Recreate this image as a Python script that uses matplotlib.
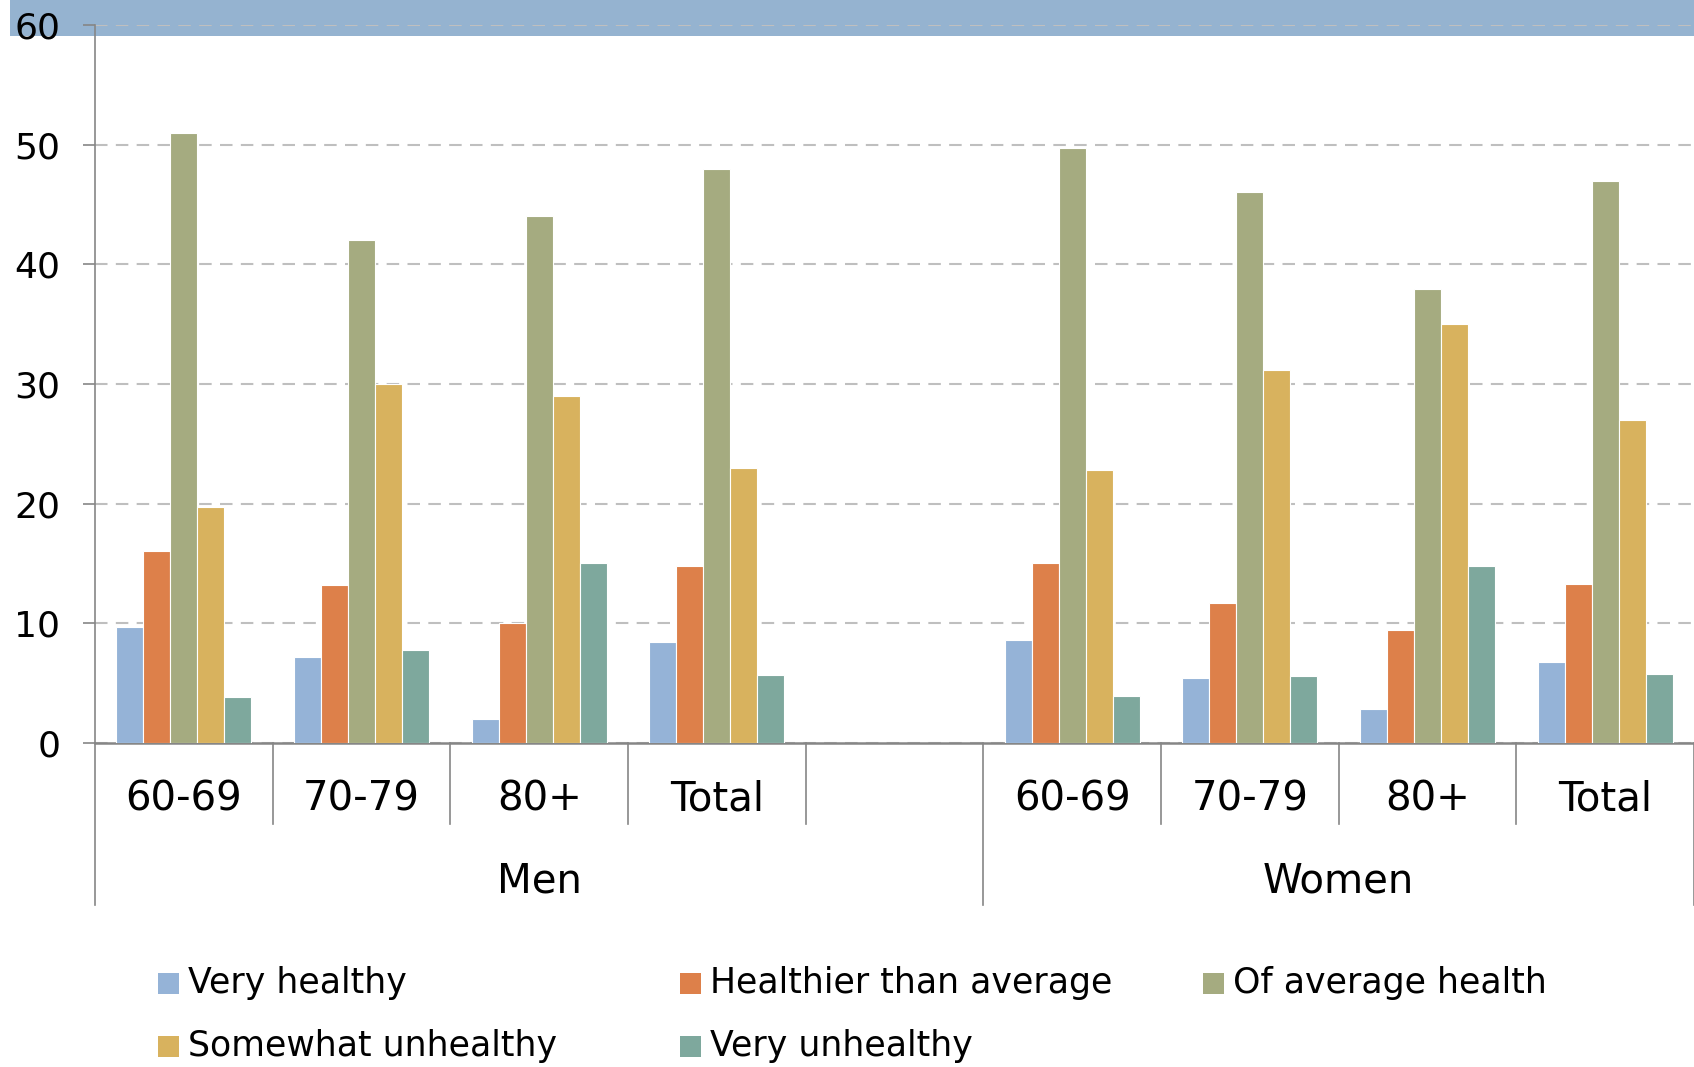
#Importing Libraries
import numpy as np
import matplotlib.pyplot as plt
from matplotlib.patches import Rectangle
import matplotlib.transforms as mtransforms

#Data (percent)
groups = ['Men', 'Women']
ages = ['60-69', '70-79', '80+', 'Total']
series = ['Very healthy', 'Healthier than average', 'Of average health',
          'Somewhat unhealthy', 'Very unhealthy']
very_healthy = [9.7, 7.2, 2.0, 8.4, 8.6, 5.4, 2.8, 6.8]
healthier = [16.0, 13.2, 10.0, 14.8, 15.0, 11.7, 9.4, 13.3]
average = [51.0, 42.0, 44.0, 48.0, 49.7, 46.0, 37.9, 47.0]
somewhat_unhealthy = [19.7, 30.0, 29.0, 23.0, 22.8, 31.2, 35.0, 27.0]
very_unhealthy = [3.8, 7.8, 15.0, 5.7, 3.9, 5.6, 14.8, 5.8]
colors = ['#95B3D7', '#DD804A', '#A5AB80', '#D8B25E', '#7EA89D']

values = [very_healthy, healthier, average, somewhat_unhealthy, very_unhealthy]

plt.rcParams['font.family'] = ['DejaVu Sans']

fig = plt.figure(figsize=(16.94, 10.67), dpi=100)

#Blue band at the top
fig.add_artist(Rectangle((0.006, 0.9663), 0.994, 0.0337, transform=fig.transFigure,
                         facecolor='#95B3D0', edgecolor='none', zorder=0))

ax = fig.add_axes([0.0561, 0.3037, 0.9439, 0.6729])
ax.set_facecolor('none')

#slots: 4 for men, one empty, 4 for women
slots = [0, 1, 2, 3, 5, 6, 7, 8]
w = 0.152
for i, vals in enumerate(values):
    xs = np.array(slots) + (i - 2) * w
    ax.bar(xs, vals, width=w, color=colors[i], edgecolor='white', linewidth=0.8,
           zorder=3, label=series[i])

ax.set_xlim(-0.5, 8.5)
ax.set_ylim(0, 60)
ax.set_yticks(range(0, 61, 10))
ax.tick_params(axis='y', labelsize=26, length=9, width=1.2, color='#868686', pad=16)
ax.set_xticks([])
ax.yaxis.grid(True, linestyle=(0, (6, 4)), color='#BFBFBF', linewidth=1.5, zorder=1)
for s in ['top', 'right']:
    ax.spines[s].set_visible(False)
ax.spines['left'].set_color('#868686')
ax.spines['left'].set_linewidth(1.2)
ax.spines['bottom'].set_color('#868686')
ax.spines['bottom'].set_linewidth(1.8)

trans = mtransforms.blended_transform_factory(ax.transData, ax.transAxes)

#category separators and labels
for x in [0.5, 1.5, 2.5, 3.5, 5.5, 6.5, 7.5]:
    ax.plot([x, x], [0, -0.113], transform=trans, color='#868686', lw=1.2, clip_on=False)
for x in [-0.5, 4.5, 8.5]:
    ax.plot([x, x], [0, -0.2256], transform=trans, color='#868686', lw=1.2, clip_on=False)
for j, s in enumerate(slots):
    ax.text(s, -0.079, ages[j % 4], transform=trans, ha='center', va='center', fontsize=29)
ax.text(2.0, -0.193, groups[0], transform=trans, ha='center', va='center', fontsize=29)
ax.text(6.5, -0.193, groups[1], transform=trans, ha='center', va='center', fontsize=29)

#Legend drawn by hand in a 3x2 layout
leg_x = [158, 680, 1203]
leg_y = [983, 1046]
W, H = 1694, 1067
for i, name in enumerate(series):
    cx = leg_x[i % 3]
    cy = leg_y[i // 3]
    fig.add_artist(Rectangle((cx / W, (H - cy - 10.5) / H), 21 / W, 21 / H,
                             transform=fig.transFigure, facecolor=colors[i], edgecolor='none'))
    fig.text((cx + 30) / W, (H - cy) / H, name, ha='left', va='center', fontsize=25)

fig.savefig('out.png', dpi=100)
